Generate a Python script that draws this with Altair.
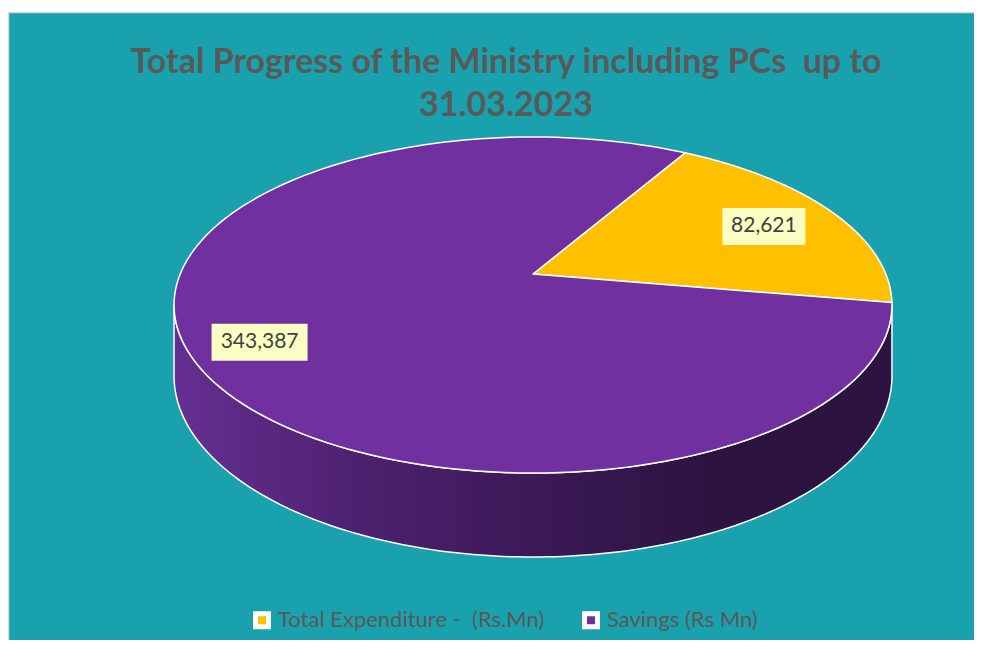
import altair as alt
import pandas as pd

# ---------------- data ----------------
categories = ["Total Expenditure -  (Rs.Mn)", "Savings (Rs Mn)"]
values = [82621, 343387]
colors = ["#FFC000", "#7030A0"]
title_lines = ["Total Progress of the Ministry including PCs  up to", "31.03.2023"]

df = pd.DataFrame({"cat": categories, "value": values, "idx": list(range(len(values)))})

# ---------------- layout / style (page pixel space) ----------------
PAD_L, PAD_T = 1, 5
W, H = 965, 627
X0, Y0 = 8 + PAD_L, 8 + PAD_T
AX, AY = 533, 274          # projected pie centre
A, B = 352.8, 162.3        # projected radii
K = 0.1845                 # perspective factor
D0 = 68.5                  # side depth (before perspective)
ROT = 30                   # first slice angle (deg, clockwise from back)
N = 160
LR = 0.78                  # label radius fraction
LABEL_DX = [-4, -8]
LABEL_DY = [3, 11]
TEAL = "#19A1AE"
FONT = "Lato"
NB = "\u00a0"

xs = alt.Scale(domain=[X0, X0 + W], nice=False, zero=False)
ys = alt.Scale(domain=[Y0, Y0 + H], nice=False, zero=False, reverse=True)

base = (
    alt.Chart(df)
    .transform_joinaggregate(total="sum(value)")
    .transform_window(cum="sum(value)", sort=[alt.SortField("idx")], frame=[None, 0])
    .transform_calculate(
        a0=f"{ROT} + 360*(datum.cum - datum.value)/datum.total",
        a1=f"{ROT} + 360*datum.cum/datum.total",
    )
)

# ---------------- side of the cylinder ----------------
grad = alt.LinearGradient(
    gradient="linear",
    stops=[
        alt.GradientStop(color="#652F92", offset=0),
        alt.GradientStop(color="#4E2170", offset=0.25),
        alt.GradientStop(color="#3C1957", offset=0.5),
        alt.GradientStop(color="#2C1340", offset=0.75),
        alt.GradientStop(color="#2C1340", offset=1),
    ],
    x1=0, x2=1, y1=0, y2=0,
)
side = (
    alt.Chart(alt.sequence(0, N + 1, as_="i"))
    .transform_calculate(phs=f"acos(-{K})")
    .transform_calculate(th=f"datum.phs + (2*PI - 2*datum.phs)*datum.i/{N}")
    .transform_calculate(den=f"1 + {K}*cos(datum.th)")
    .transform_calculate(
        sx=f"{AX} + {A}*sin(datum.th)/datum.den",
        sy=f"{AY} - {B}*cos(datum.th)/datum.den",
        sy2=f"{AY} - {B}*cos(datum.th)/datum.den + {D0}/datum.den",
    )
    .mark_area(fill=grad, stroke="white", strokeWidth=1.5)
    .encode(
        x=alt.X("sx:Q", scale=xs, axis=None),
        y=alt.Y("sy:Q", scale=ys, axis=None),
        y2="sy2:Q",
    )
)

# ---------------- top face slices ----------------
top = (
    base.transform_calculate(pts=f"sequence(0, {N + 1})")
    .transform_flatten(["pts"])
    .transform_calculate(
        th=f"(datum.a0 + (datum.a1 - datum.a0)*max(datum.pts - 1, 0)/{N - 1})*PI/180",
        r="datum.pts == 0 ? 0 : 1",
    )
    .transform_calculate(den=f"1 + {K}*datum.r*cos(datum.th)")
    .transform_calculate(
        px=f"{AX} + {A}*datum.r*sin(datum.th)/datum.den",
        py=f"{AY} - {B}*datum.r*cos(datum.th)/datum.den",
    )
    .mark_line(interpolate="linear-closed", stroke="white", strokeWidth=1.5, strokeJoin="round")
    .encode(
        x=alt.X("px:Q", scale=xs, axis=None),
        y=alt.Y("py:Q", scale=ys, axis=None),
        order=alt.Order("pts:Q"),
        detail="cat:N",
        fill=alt.Fill(
            "cat:N",
            scale=alt.Scale(domain=categories, range=colors),
            legend=alt.Legend(
                title=None,
                orient="none",
                legendX=242,
                legendY=596,
                direction="horizontal",
                symbolType="square",
                symbolSize=169,
                symbolStrokeColor="white",
                symbolStrokeWidth=5,
                symbolOpacity=1,
                labelFont=FONT,
                labelFontSize=22,
                labelColor="#595959",
                labelLimit=500,
                labelOffset=5,
                columnPadding=29,
                labelExpr=f"replace(datum.label, '  ', ' {NB}')",
            ),
        ),
    )
)

# ---------------- data labels ----------------
lab = base.transform_calculate(
    mid="(datum.a0 + datum.a1)/2*PI/180",
    dx=f"{LABEL_DX}[datum.idx]",
    dy=f"{LABEL_DY}[datum.idx]",
    w="5 + 13*length(format(datum.value, ','))",
).transform_calculate(
    den=f"1 + {K}*{LR}*cos(datum.mid)"
).transform_calculate(
    lx=f"{AX} + {LR}*{A}*sin(datum.mid)/datum.den + datum.dx",
    ly=f"{AY} - {LR}*{B}*cos(datum.mid)/datum.den + datum.dy",
).transform_calculate(
    bx1="datum.lx - datum.w/2",
    bx2="datum.lx + datum.w/2",
    by1="datum.ly - 18.5",
    by2="datum.ly + 18.5",
)
boxes = lab.mark_rect(fill="#F9FEC2").encode(
    x=alt.X("bx1:Q", scale=xs, axis=None),
    x2="bx2:Q",
    y=alt.Y("by1:Q", scale=ys, axis=None),
    y2="by2:Q",
)
texts = lab.mark_text(font=FONT, fontSize=21, color="#404040", baseline="middle", align="center").encode(
    x=alt.X("lx:Q", scale=xs, axis=None),
    y=alt.Y("ly:Q", scale=ys, axis=None),
    text=alt.Text("value:Q", format=","),
)

# ---------------- title ----------------
tdf = pd.DataFrame({"t": title_lines})
def title_line(i, y):
    return (
        alt.Chart(tdf.iloc[[i]])
        .transform_calculate(tt=f"replace(datum.t, '  ', ' {NB}')")
        .mark_text(font=FONT, fontSize=34, fontWeight="bold", color="#595959",
                   align="center", baseline="alphabetic")
        .encode(x=alt.value(497), y=alt.value(y), text="tt:N")
    )
title1 = title_line(0, 60)
title2 = title_line(1, 103)

# ---------------- frame lines ----------------
border_top = alt.Chart(pd.DataFrame({"k": [0]})).mark_rule(color="#D9D9D9", strokeWidth=1.5).encode(
    x=alt.value(-0.5), x2=alt.value(W), y=alt.value(-0.5)
)
border_left = alt.Chart(pd.DataFrame({"k": [0]})).mark_rule(color="#D9D9D9", strokeWidth=1.5).encode(
    x=alt.value(-0.5), y=alt.value(-0.5), y2=alt.value(H)
)

chart = (
    alt.layer(side, top, boxes, texts, title1, title2, border_top, border_left)
    .properties(
        width=W,
        height=H,
        padding={"left": PAD_L, "top": PAD_T, "right": 0, "bottom": 0},
        autosize=alt.AutoSizeParams(type="none"),
        background="white",
    )
    .configure_view(fill=TEAL, strokeWidth=0)
)

chart.save("out.html", embed_options={"renderer": "svg", "actions": False})
